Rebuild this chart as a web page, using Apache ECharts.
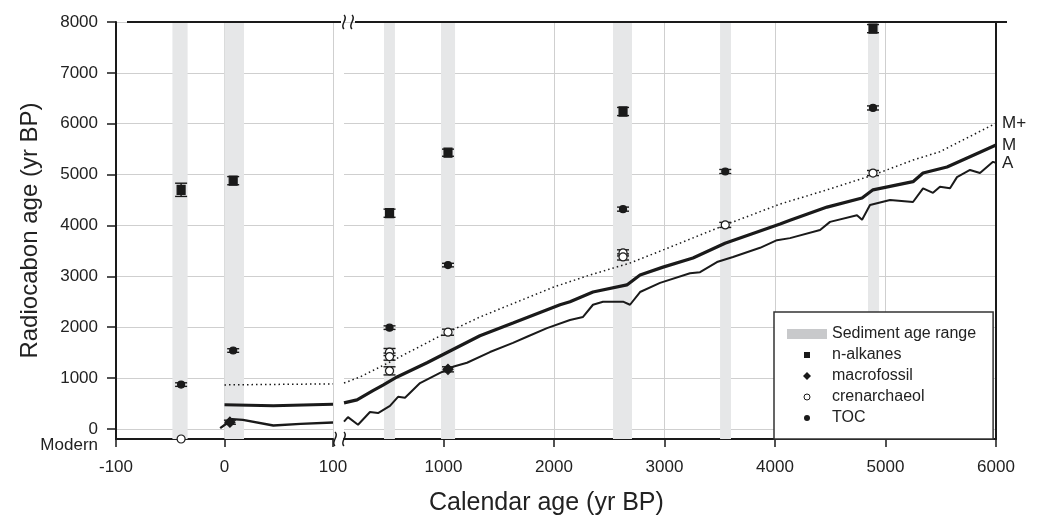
<!DOCTYPE html>
<html>
<head>
<meta charset="utf-8">
<script src="https://cdn.jsdelivr.net/npm/echarts@6/dist/echarts.min.js"></script>
<style>
html, body { margin: 0; padding: 0; background: #fff; }
#chart { width: 1037px; height: 518px; }
</style>
</head>
<body>
<div id="chart"></div>
<script>
// y range, "Modern" sits at the bottom
var yMin = -200, yMax = 8000;
var yTicks = [0, 1000, 2000, 3000, 4000, 5000, 6000, 7000, 8000];
var modernTick = [-200];
var xTicksRight = [1000, 2000, 3000, 4000, 5000, 6000];

// sediment age ranges [start, end]
var sedimentLeft = [[-48, -34], [0, 18]];
var sedimentRight = [[462, 561], [978, 1105], [2534, 2706], [3503, 3602], [4842, 4942]];

// [calendar age, radiocarbon age, error]
var nAlkanesLeft = [[-40, 4700, 130], [8, 4880, 80]];
var nAlkanesRight = [[512, 4240, 80], [1041, 5430, 70], [2625, 6240, 80], [4887, 7870, 80]];
var macroLeft = [[5, 130, 40]];
var macroRight = [[1041, 1170, 50]];
var crenLeft = [[-40, -200, 0]];
var crenRight = [[512, 1510, 70], [512, 1420, 70], [512, 1140, 80], [1041, 1900, 60],
                 [2625, 3460, 60], [2625, 3380, 60], [3550, 4010, 50], [4887, 5030, 50]];
var tocLeft = [[-40, 870, 35], [8, 1540, 35]];
var tocRight = [[512, 1990, 35], [1041, 3220, 35], [2625, 4320, 40], [3550, 5060, 40], [4887, 6310, 40]];

// model curves
var mPlusLeft = [[0, 864], [50, 874], [100, 884]];
var mLeft = [[0, 472], [45, 455], [100, 485]];
var aLeft = [[-4, 14], [3, 120], [7, 190], [17, 177], [45, 65], [70, 98], [100, 124]];

var mPlusRight = [[100, 900], [245, 1020], [516, 1315], [1000, 1860], [1331, 2200], [2000, 2790],
                  [2326, 3025], [2688, 3260], [2987, 3517], [3548, 4008], [4046, 4420], [4471, 4700],
                  [4887, 4990], [5249, 5285], [5493, 5450], [6000, 6010]];
var mRight = [[100, 510], [218, 570], [362, 750], [453, 860], [580, 1020], [851, 1300], [1059, 1530],
              [1330, 1830], [1629, 2080], [2055, 2440], [2145, 2500], [2353, 2690], [2660, 2830],
              [2779, 3025], [2987, 3180], [3258, 3360], [3548, 3650], [4046, 4030], [4136, 4100],
              [4471, 4360], [4788, 4540], [4887, 4700], [5249, 4860], [5340, 5030], [5557, 5150],
              [5855, 5440], [6000, 5580]];
var aRight = [[100, 140], [136, 230], [227, 80], [335, 330], [408, 310], [516, 450], [589, 630],
              [652, 610], [788, 900], [969, 1100], [1086, 1220], [1213, 1300], [1421, 1510],
              [1629, 1690], [1756, 1810], [1937, 1980], [2145, 2140], [2263, 2200], [2353, 2440],
              [2444, 2500], [2625, 2500], [2688, 2440], [2779, 2690], [2960, 2870], [3231, 3060],
              [3322, 3080], [3475, 3280], [3620, 3380], [3865, 3560], [4018, 3710], [4136, 3750],
              [4408, 3910], [4498, 4070], [4742, 4200], [4788, 4110], [4860, 4400], [5041, 4500],
              [5249, 4460], [5340, 4730], [5430, 4640], [5493, 4760], [5584, 4730], [5647, 4950],
              [5765, 5090], [5855, 5030], [5973, 5250], [6000, 5230]];

var ink = '#1a1a1a';
var font = 'Liberation Sans, Arial, sans-serif';

function bandItem(params, api) {
    var p1 = api.coord([api.value(0), yMax]);
    var p2 = api.coord([api.value(1), yMin]);
    return { type: 'rect', shape: { x: p1[0], y: p1[1], width: p2[0] - p1[0], height: p2[1] - p1[1] },
             style: { fill: '#e6e7e8' } };
}

function errItem(params, api) {
    var x = api.value(0), y = api.value(1), e = api.value(2);
    if (!e) return null;
    var hi = api.coord([x, y + e]), lo = api.coord([x, y - e]);
    var w = 6, st = { stroke: ink, lineWidth: 1.4 };
    return { type: 'group', children: [
        { type: 'line', shape: { x1: hi[0], y1: hi[1], x2: lo[0], y2: lo[1] }, style: st },
        { type: 'line', shape: { x1: hi[0] - w, y1: hi[1], x2: hi[0] + w, y2: hi[1] }, style: st },
        { type: 'line', shape: { x1: lo[0] - w, y1: lo[1], x2: lo[0] + w, y2: lo[1] }, style: st }
    ]};
}

var series = [];
[[sedimentLeft, 0], [sedimentRight, 1]].forEach(function (s) {
    series.push({ name: 'Sediment age range', type: 'custom', xAxisIndex: s[1], yAxisIndex: s[1],
                  renderItem: bandItem, data: s[0], z: 1, silent: true });
});

function addLine(name, data, idx, width, dash, label) {
    series.push({ name: name, type: 'line', xAxisIndex: idx, yAxisIndex: idx, data: data,
                  symbol: 'none', z: 3, silent: true,
                  lineStyle: { color: ink, width: width, type: dash || 'solid' },
                  endLabel: { show: !!label, formatter: '{a}', color: '#222', fontSize: 17,
                              fontFamily: font, distance: 6 } });
}
addLine('M+', mPlusLeft, 0, 1.5, [1.5, 3]);
addLine('M', mLeft, 0, 3);
addLine('A', aLeft, 0, 2.4);
addLine('M+', mPlusRight, 1, 1.5, [1.5, 3], true);
addLine('M', mRight, 1, 3.2, null, true);
addLine('A', aRight, 1, 2, null, true);

function addMarkers(name, left, right, symbol, size, fill) {
    [[left, 0], [right, 1]].forEach(function (s) {
        series.push({ name: name + ' err', type: 'custom', xAxisIndex: s[1], yAxisIndex: s[1],
                      renderItem: errItem, data: s[0], z: 4, silent: true });
        series.push({ name: name, type: 'scatter', xAxisIndex: s[1], yAxisIndex: s[1],
                      data: s[0], symbol: symbol, symbolSize: size, z: 5, silent: true,
                      itemStyle: { color: fill, borderColor: ink, borderWidth: 1.2, opacity: 1 } });
    });
}
addMarkers('n-alkanes', nAlkanesLeft, nAlkanesRight, 'rect', [8, 9], ink);
addMarkers('macrofossil', macroLeft, macroRight, 'diamond', 10, ink);
addMarkers('crenarchaeol', crenLeft, crenRight, 'circle', 8, '#fff');
addMarkers('TOC', tocLeft, tocRight, 'circle', 7, ink);

var axisLabelStyle = { color: '#222', fontSize: 17, fontFamily: font };
var splitStyle = { show: true, lineStyle: { color: '#cfcfcf', width: 1 } };
function plain(v) { return String(v); }

function squiggle(x, y) {
    return { type: 'bezierCurve', silent: true, z: 10,
             shape: { x1: x, y1: y - 7, cpx1: x + 5, cpy1: y - 3, cpx2: x - 5, cpy2: y + 3, x2: x, y2: y + 7 },
             style: { stroke: ink, lineWidth: 1.5, fill: null } };
}

var option = {
    animation: false,
    backgroundColor: '#fff',
    textStyle: { fontFamily: font },
    grid: [
        { left: 116, width: 217, top: 22, height: 417 },
        { left: 344, width: 652, top: 22, height: 417 }
    ],
    xAxis: [
        { type: 'value', gridIndex: 0, min: -100, max: 100, interval: 100,
          axisLine: { onZero: false, lineStyle: { color: ink, width: 2 } },
          axisTick: { length: 8, lineStyle: { color: ink, width: 1.5 } },
          axisLabel: Object.assign({ margin: 20, formatter: plain }, axisLabelStyle),
          splitLine: splitStyle },
        { type: 'value', gridIndex: 1, min: 100, max: 6000,
          axisLine: { onZero: false, lineStyle: { color: ink, width: 2 } },
          axisTick: { length: 8, customValues: xTicksRight, lineStyle: { color: ink, width: 1.5 } },
          axisLabel: Object.assign({ margin: 20, customValues: xTicksRight, formatter: plain }, axisLabelStyle),
          splitLine: splitStyle }
    ],
    yAxis: [
        { type: 'value', gridIndex: 0, min: yMin, max: yMax,
          name: 'Radiocabon age (yr BP)', nameLocation: 'middle', nameGap: 74,
          nameTextStyle: { color: '#222', fontSize: 24, fontFamily: font },
          axisLine: { show: true, onZero: false, lineStyle: { color: ink, width: 2 } },
          axisTick: { show: true, length: 9, customValues: yTicks, lineStyle: { color: ink, width: 1.5 } },
          axisLabel: Object.assign({ margin: 18, customValues: yTicks, showMinLabel: true,
                                     formatter: plain }, axisLabelStyle),
          splitLine: splitStyle },
        { type: 'value', gridIndex: 1, min: yMin, max: yMax, position: 'right',
          axisLine: { show: true, onZero: false, lineStyle: { color: ink, width: 2 } },
          axisTick: { show: false, customValues: yTicks },
          axisLabel: { show: false },
          splitLine: splitStyle },
        // carries only the "Modern" label at the bottom of the left axis
        { type: 'value', gridIndex: 0, min: yMin, max: yMax, position: 'left',
          axisLine: { show: false, onZero: false },
          axisTick: { show: false },
          splitLine: { show: false },
          axisLabel: Object.assign({ margin: 18, customValues: modernTick, showMinLabel: true,
                                     formatter: function () { return '{m|Modern}'; },
                                     rich: { m: { fontSize: 17, color: '#222', fontFamily: font, padding: [12, 0, 0, 0] } } },
                                   axisLabelStyle) }
    ],
    legend: {
        left: 774, top: 312, orient: 'vertical', selectedMode: false,
        backgroundColor: '#fff', borderColor: '#333', borderWidth: 1.5,
        padding: [14, 17, 13, 13], itemGap: 5, itemWidth: 40, itemHeight: 10,
        textStyle: { color: '#222', fontSize: 16, fontFamily: font },
        data: [
            { name: 'Sediment age range', icon: 'rect', itemStyle: { color: '#c8c9cb', borderWidth: 0 } },
            { name: 'n-alkanes', icon: 'path://M0,0M10,10M2,2L8,2L8,8L2,8Z', itemStyle: { color: ink, borderWidth: 0 } },
            { name: 'macrofossil', icon: 'path://M0,0M10,10M5,1L9,5L5,9L1,5Z', itemStyle: { color: ink, borderWidth: 0 } },
            { name: 'crenarchaeol', icon: 'path://M0,0M10,10M2,5A3,3,0,1,1,8,5A3,3,0,1,1,2,5Z',
              itemStyle: { color: '#fff', borderColor: ink, borderWidth: 1 } },
            { name: 'TOC', icon: 'path://M0,0M10,10M2,5A3,3,0,1,1,8,5A3,3,0,1,1,2,5Z', itemStyle: { color: ink, borderWidth: 0 } }
        ]
    },
    graphic: [
        { type: 'line', z: 10, silent: true, shape: { x1: 127, y1: 22, x2: 341, y2: 22 }, style: { stroke: ink, lineWidth: 2.2 } },
        { type: 'line', z: 10, silent: true, shape: { x1: 355, y1: 22, x2: 1007, y2: 22 }, style: { stroke: ink, lineWidth: 2.2 } },
        squiggle(344, 22), squiggle(352, 22),
        squiggle(335, 439), squiggle(344, 439),
        { type: 'text', left: 429, top: 491, silent: true,
          style: { text: 'Calendar age (yr BP)', fill: '#222', fontSize: 25, fontFamily: font } }
    ],
    series: series
};

var chart = echarts.init(document.getElementById('chart'));
chart.setOption(option);
</script>
</body>
</html>
